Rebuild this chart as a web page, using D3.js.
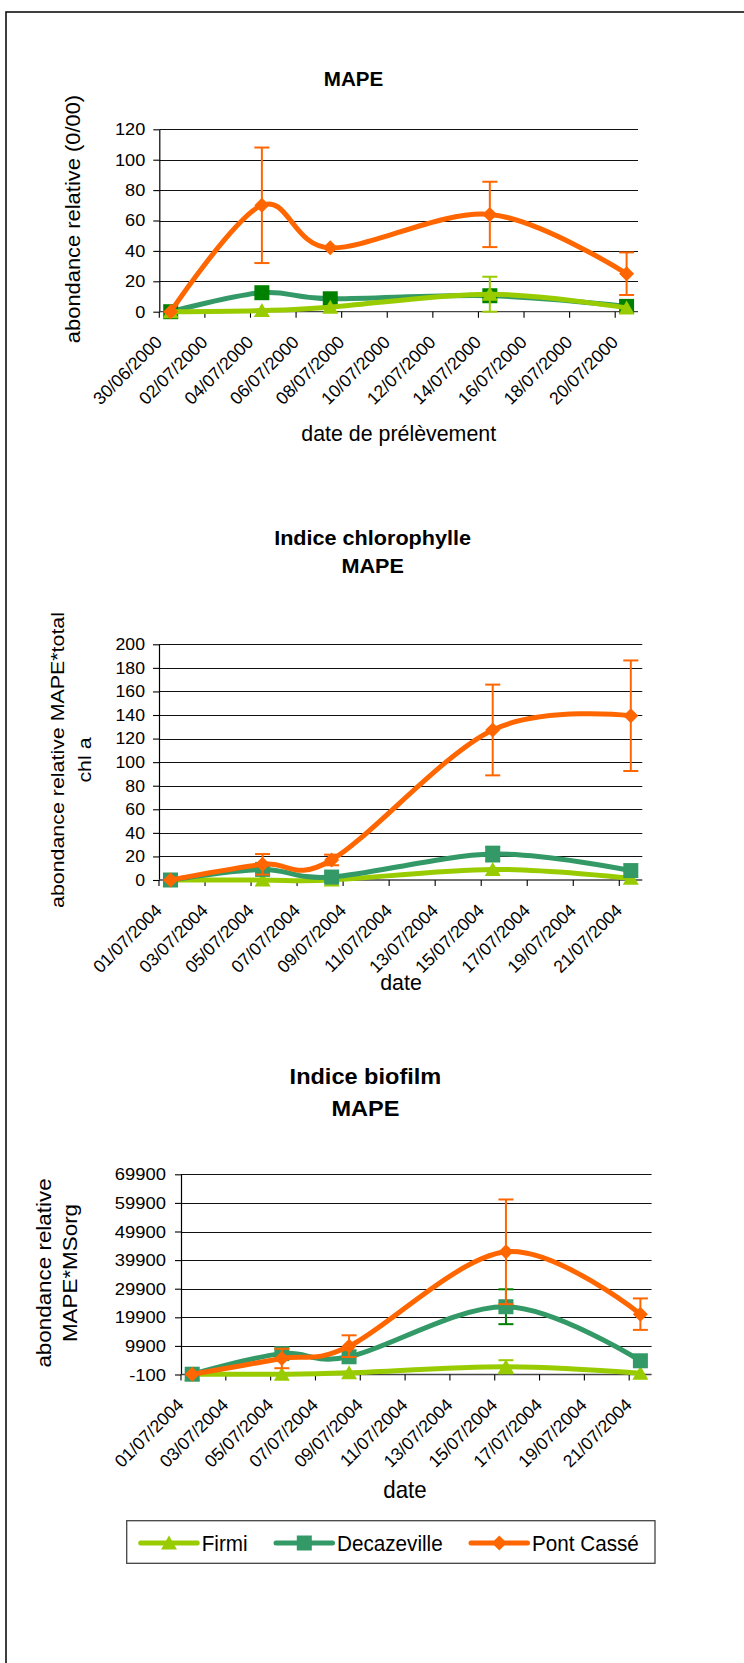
<!DOCTYPE html>
<html><head><meta charset="utf-8">
<script src="https://cdn.jsdelivr.net/npm/d3@7"></script>
<style>body{margin:0;background:#fff;overflow:hidden}</style>
</head><body>
<svg id="c" width="744" height="1663"></svg>
<script>
// ---------- DATA ----------
const seriesNames = ["Firmi", "Decazeville", "Pont Cassé"];

// Chart 1 : MAPE
const c1Title = ["MAPE"];
const c1YTitle = ["abondance relative (0/00)"];
const c1XTitle = "date de prélèvement";
const c1Labels = ["30/06/2000","02/07/2000","04/07/2000","06/07/2000","08/07/2000","10/07/2000","12/07/2000","14/07/2000","16/07/2000","18/07/2000","20/07/2000"];
const c1YTicks = [0, 20, 40, 60, 80, 100, 120];
const c1Dates = ["30/06/2000","04/07/2000","07/07/2000","14/07/2000","20/07/2000"];
const c1Firmi = [0, 0.8, 3, 11.5, 2.5];
const c1FirmiErr = [0, 0, 0, 11.5, 0];
const c1Deca = [0, 12.5, 8.5, 10.5, 3.5];
const c1DecaErr = [0, 0, 0, 0, 0];
const c1Pont = [0, 70, 42, 64, 25];
const c1PontErr = [0, 38, 0, 21.5, 14];

// Chart 2 : Indice chlorophylle
const c2Title = ["Indice chlorophylle", "MAPE"];
const c2YTitle = ["abondance relative MAPE*total", "chl a"];
const c2XTitle = "date";
const c2Labels = ["01/07/2004","03/07/2004","05/07/2004","07/07/2004","09/07/2004","11/07/2004","13/07/2004","15/07/2004","17/07/2004","19/07/2004","21/07/2004"];
const c2YTicks = [0, 20, 40, 60, 80, 100, 120, 140, 160, 180, 200];
const c2Dates = ["01/07/2004","05/07/2004","08/07/2004","15/07/2004","21/07/2004"];
const c2Firmi = [0, 0, 0, 9, 1.5];
const c2FirmiErr = [0, 0, 0, 0, 0];
const c2Deca = [0, 9, 2.5, 22, 8];
const c2DecaErr = [0, 0, 0, 6.3, 0];
const c2Pont = [0, 13.3, 17, 127.3, 139.4];
const c2PontErr = [0, 8.7, 4.5, 38.5, 46.9];

// Chart 3 : Indice biofilm
const c3Title = ["Indice biofilm", "MAPE"];
const c3YTitle = ["abondance relative", "MAPE*MSorg"];
const c3XTitle = "date";
const c3Labels = c2Labels;
const c3YTicks = [-100, 9900, 19900, 29900, 39900, 49900, 59900, 69900];
const c3Dates = c2Dates;
const c3Firmi = [0, 0, 500, 2600, 300];
const c3FirmiErr = [0, 0, 0, 2300, 0];
const c3Deca = [0, 7200, 6100, 23600, 4700];
const c3DecaErr = [0, 0, 0, 6100, 0];
const c3Pont = [0, 5500, 9800, 42800, 21000];
const c3PontErr = [0, 3400, 3800, 18300, 5500];

// ---------- STYLE / LAYOUT ----------
const FONT = "'Liberation Sans', Arial, Helvetica, sans-serif";
const COL = { Firmi: "#99CC00", Decazeville: "#339966", "Pont Cassé": "#FF6600" };
const parse = d3.utcParse("%d/%m/%Y");
const svg = d3.select("#c");

svg.append("rect").attr("x", 6).attr("y", 12).attr("width", 900).attr("height", 1800)
  .attr("fill", "none").attr("stroke", "#000").attr("stroke-width", 1.5);

// text helper: screen-space horizontal scale sx, then rotation
function txt(g, str, x, y, o) {
  o = o || {};
  return g.append("text")
    .attr("transform", `translate(${x},${y}) scale(${o.sx ?? 1},1) rotate(${o.rot || 0})`)
    .attr("text-anchor", o.anchor || "middle")
    .attr("font-family", FONT)
    .attr("font-size", o.size || 18)
    .attr("font-weight", o.bold ? "bold" : "normal")
    .attr("fill", "#000")
    .text(str);
}

const markerPath = {
  tri: "M0,-7.5L8,6.5L-8,6.5Z",
  sq: "M-7.5,-7.5H7.5V7.5H-7.5Z",
  dia: "M0,-7.5L7.5,0L0,7.5L-7.5,0Z"
};

function drawChart(cfg) {
  const L = cfg.layout;
  const g = svg.append("g");
  const start = parse(cfg.labels[0]);
  const x = d3.scaleUtc().domain([start, d3.utcDay.offset(start, 21)]).range([L.x0, L.x1]);
  const y = d3.scaleLinear().domain([cfg.yTicks[0], cfg.yTicks[cfg.yTicks.length - 1]]).range([L.yBot, L.yTop]);
  const mid = d => d3.utcHour.offset(parse(d), 12);

  // gridlines
  g.append("g").selectAll("line").data(cfg.yTicks.slice(1)).join("line")
    .attr("x1", L.x0).attr("x2", L.x1)
    .attr("y1", d => Math.round(y(d)) + 0.5).attr("y2", d => Math.round(y(d)) + 0.5)
    .attr("stroke", "#111").attr("stroke-width", 1.2);

  // y axis
  const off = 6 + L.pad;
  const ya = g.append("g").attr("transform", `translate(${L.x0},0)`)
    .call(d3.axisLeft(y).tickValues(cfg.yTicks).tickSize(6).tickSizeOuter(0)
      .tickPadding(L.pad).tickFormat(d => String(d)));
  ya.select(".domain").attr("stroke", "#000").attr("stroke-width", 1.2);
  ya.selectAll(".tick line").attr("stroke", "#000").attr("stroke-width", 1.1);
  ya.selectAll(".tick text").attr("font-family", FONT).attr("font-size", L.tickSize)
    .attr("fill", "#000").attr("x", 0).attr("transform", `translate(${-off},0) scale(1.07,1)`);

  // x axis line + tick marks
  g.append("line").attr("x1", L.x0).attr("x2", L.x1).attr("y1", L.yBot).attr("y2", L.yBot)
    .attr("stroke", "#444").attr("stroke-width", 1.3);
  g.append("g").selectAll("line").data(cfg.labels).join("line")
    .attr("x1", d => x(parse(d))).attr("x2", d => x(parse(d)))
    .attr("y1", L.yBot).attr("y2", L.yBot + 6).attr("stroke", "#000").attr("stroke-width", 1.1);
  // x tick labels
  cfg.labels.forEach(d => {
    txt(g, d, x(mid(d)) - 7.5, L.yBot + 31.5, { rot: -45, anchor: "end", size: 17.7 });
  });

  // titles
  cfg.title.forEach((t, i) => txt(g, t, L.tx, L.ty[i], { bold: true, size: L.titleSize, sx: L.titleSx }));
  cfg.yTitle.forEach((t, i) => txt(g, t, L.yx[i], L.yy, { rot: -90, size: L.ySize, sx: 0.9 }));
  txt(g, cfg.xTitle, L.xx, L.xy, { size: L.axSize, sx: 0.93 });

  // series
  cfg.series.forEach(s => {
    const pts = cfg.dates.map((d, i) => ({ date: d, v: s.vals[i], e: s.err[i] }));
    const line = d3.line().x(p => x(mid(p.date))).y(p => y(p.v)).curve(d3.curveCardinal.tension(0));
    g.append("path").attr("d", line(pts)).attr("fill", "none")
      .attr("stroke", s.color).attr("stroke-width", 5).attr("stroke-linejoin", "round");
    const eb = g.append("g").attr("stroke", s.errColor).attr("stroke-width", 2).attr("fill", "none");
    pts.filter(p => p.e > 0).forEach(p => {
      const cx = x(mid(p.date));
      eb.append("line").attr("x1", cx).attr("x2", cx).attr("y1", y(p.v + p.e)).attr("y2", y(p.v - p.e));
      [p.v + p.e, p.v - p.e].forEach(v => eb.append("line")
        .attr("x1", cx - 7.5).attr("x2", cx + 7.5).attr("y1", y(v)).attr("y2", y(v)));
    });
    g.append("g").selectAll("path").data(pts).join("path")
      .attr("d", markerPath[s.marker])
      .attr("transform", p => `translate(${x(mid(p.date))},${y(p.v)})`)
      .attr("fill", s.markerColor);
  });
}

const S = (name, vals, err, marker, markerColor, errColor) =>
  ({ name, vals, err, marker, color: COL[name], markerColor: markerColor || COL[name], errColor: errColor || COL[name] });

drawChart({
  labels: c1Labels, dates: c1Dates, yTicks: c1YTicks, title: c1Title, yTitle: c1YTitle, xTitle: c1XTitle,
  series: [
    S("Decazeville", c1Deca, c1DecaErr, "sq", "#008000", "#008000"),
    S("Firmi", c1Firmi, c1FirmiErr, "tri"),
    S("Pont Cassé", c1Pont, c1PontErr, "dia")
  ],
  layout: { x0: 159.3, x1: 638, yTop: 129.3, yBot: 311.7, pad: 8, tickSize: 17,
    tx: 353.6, ty: [86], titleSize: 20, titleSx: 1.03, yx: [80], yy: 219, ySize: 21.9,
    xx: 398.7, xy: 440.5, axSize: 23 }
});

drawChart({
  labels: c2Labels, dates: c2Dates, yTicks: c2YTicks, title: c2Title, yTitle: c2YTitle, xTitle: c2XTitle,
  series: [
    S("Firmi", c2Firmi, c2FirmiErr, "tri"),
    S("Decazeville", c2Deca, c2DecaErr, "sq"),
    S("Pont Cassé", c2Pont, c2PontErr, "dia")
  ],
  layout: { x0: 159, x1: 642.3, yTop: 644.3, yBot: 880, pad: 8, tickSize: 16.5,
    tx: 372.6, ty: [545, 572.7], titleSize: 21, titleSx: 1.03, yx: [64, 91], yy: 760, ySize: 21.4,
    xx: 401, xy: 990, axSize: 23 }
});

drawChart({
  labels: c3Labels, dates: c3Dates, yTicks: c3YTicks, title: c3Title, yTitle: c3YTitle, xTitle: c3XTitle,
  series: [
    S("Firmi", c3Firmi, c3FirmiErr, "tri"),
    S("Decazeville", c3Deca, c3DecaErr, "sq", null, "#008000"),
    S("Pont Cassé", c3Pont, c3PontErr, "dia")
  ],
  layout: { x0: 181, x1: 651.6, yTop: 1174.3, yBot: 1374.5, pad: 9, tickSize: 17.2,
    tx: 365.4, ty: [1084, 1115.7], titleSize: 22, titleSx: 1.07, yx: [50.7, 77.3], yy: 1273, ySize: 22.4,
    xx: 405, xy: 1498, axSize: 24 }
});

// ---------- LEGEND ----------
const leg = svg.append("g");
leg.append("rect").attr("x", 126.7).attr("y", 1520.7).attr("width", 528.3).attr("height", 42.6)
  .attr("fill", "#fff").attr("stroke", "#444").attr("stroke-width", 1.3);
const legX = [140.7, 276, 471];
const legMarker = ["tri", "sq", "dia"];
seriesNames.forEach((n, i) => {
  const lx = legX[i], ly = 1543;
  leg.append("line").attr("x1", lx).attr("x2", lx + 56.5).attr("y1", ly).attr("y2", ly)
    .attr("stroke", COL[n]).attr("stroke-width", 5).attr("stroke-linecap", "round");
  leg.append("path").attr("d", markerPath[legMarker[i]]).attr("transform", `translate(${lx + 28.3},${ly})`).attr("fill", COL[n]);
  txt(leg, n, lx + 61, ly + 8, { anchor: "start", size: 22, sx: 0.94 });
});
</script>
</body></html>
